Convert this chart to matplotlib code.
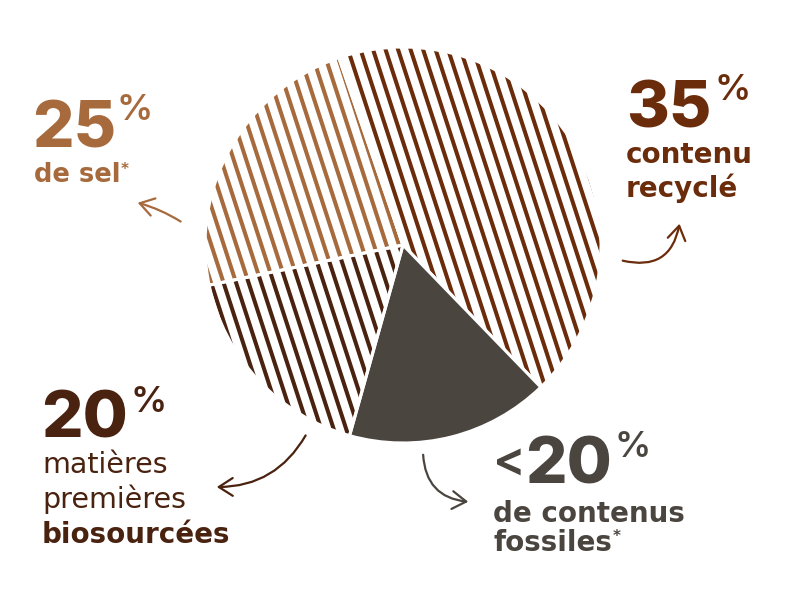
import numpy as np
import matplotlib.pyplot as plt
from matplotlib.patches import FancyArrowPatch
from matplotlib.collections import LineCollection

# slice shares as drawn, clockwise starting from the top-left edge
slices = ["contenu recyclé", "contenus fossiles", "matières premières biosourcées", "sel"]
shares = [43.0, 16.6, 17.4, 23.0]
colors = ["#6b2c0c", "#4b4540", "#4a2210", "#a66a3c"]
striped = [True, False, True, True]

# callout texts
numbers = ["35", "20", "20", "25"]
captions = [["contenu", "recyclé"], ["de contenus", "fossiles"],
            ["matières", "premières", "biosourcées"], ["de sel"]]

W, H = 805, 600


def px(x, y):
    # picture pixels (y down) -> data coords (y up)
    return x, H - y


fig = plt.figure(figsize=(8.05, 6), dpi=100)
ax = fig.add_axes([0, 0, 1, 1])

cx, cy = px(403, 245)
R = 198
wedges, _ = ax.pie(shares, startangle=108.9, counterclock=False,
                   center=(cx, cy), radius=R,
                   colors=[c if not s else "none" for c, s in zip(colors, striped)],
                   wedgeprops=dict(edgecolor="white", linewidth=2.2, zorder=3))

# diagonal hatching, clipped to each wedge
ang = np.deg2rad(-72)
d = np.array([np.cos(ang), np.sin(ang)])
n = np.array([-d[1], d[0]])
offs = np.arange(-R - 20, R + 20, 11.9)
for w, c, s in zip(wedges, colors, striped):
    if not s:
        continue
    segs = [[(cx + o * n[0] - 260 * d[0], cy + o * n[1] - 260 * d[1]),
             (cx + o * n[0] + 260 * d[0], cy + o * n[1] + 260 * d[1])] for o in offs]
    lc = LineCollection(segs, colors=c, linewidths=2.9, zorder=2)
    ax.add_collection(lc)
    lc.set_clip_path(w)

ax.set_xlim(0, W)
ax.set_ylim(0, H)
ax.set_aspect("equal")
ax.axis("off")

num_font = dict(family=["Inter", "DejaVu Sans"], fontweight="heavy", fontsize=47)
pct_font = dict(family=["Inter", "DejaVu Sans"], fontweight="semibold", fontsize=26)
txt_font = dict(family="DejaVu Sans", fontweight="bold", fontsize=20)

# 35% contenu recyclé
c = colors[0]
ax.text(*px(626, 127), numbers[0], color=c, va="baseline", **num_font)
ax.text(*px(714, 74), "%", color=c, va="top", **pct_font)
ax.text(*px(626, 163), captions[0][0], color=c, va="baseline", **txt_font)
ax.text(*px(626, 197), captions[0][1], color=c, va="baseline", **txt_font)

# <20% contenus fossiles
c = colors[1]
ax.text(*px(493, 476), "<", color=c, va="baseline",
        family=["Inter", "DejaVu Sans"], fontweight="semibold", fontsize=35)
ax.text(*px(525, 483), numbers[1], color=c, va="baseline", **num_font)
ax.text(*px(614, 431), "%", color=c, va="top", **pct_font)
ax.text(*px(493, 522), captions[1][0], color=c, va="baseline", **txt_font)
ax.text(*px(493, 551), captions[1][1], color=c, va="baseline", **txt_font)
ax.text(*px(613, 529), "*", color=c, va="top", fontsize=11, fontweight="bold")

# 20% biosourcées
c = colors[2]
ax.text(*px(41, 438), numbers[2], color=c, va="baseline", **num_font)
ax.text(*px(130, 386), "%", color=c, va="top", **pct_font)
ax.text(*px(42, 473), captions[2][0], color=c, va="baseline",
        family="DejaVu Sans", fontsize=20.5)
ax.text(*px(42, 508), captions[2][1], color=c, va="baseline",
        family="DejaVu Sans", fontsize=20.5)
ax.text(*px(42, 543), captions[2][2], color=c, va="baseline", **txt_font)

# 25% de sel
c = colors[3]
ax.text(*px(32, 147), numbers[3], color=c, va="baseline", **num_font)
ax.text(*px(116, 94), "%", color=c, va="top", **pct_font)
ax.text(*px(34, 182), captions[3][0], color=c, va="baseline",
        family="DejaVu Sans", fontweight="bold", fontsize=18.5)
ax.text(*px(121, 162), "*", color=c, va="top", fontsize=11, fontweight="bold")

# curved callout arrows
arrows = [
    ((620, 260), (680, 221), 0.55, colors[0]),
    ((423, 452), (471, 502), 0.45, colors[1]),
    ((307, 433), (214, 487), -0.3, colors[2]),
    ((183, 223), (135, 202), 0.08, colors[3]),
]
for a, b, rad, c in arrows:
    ax.add_patch(FancyArrowPatch(px(*a), px(*b), connectionstyle=f"arc3,rad={rad}",
                                 arrowstyle="->,head_length=0.5,head_width=0.32",
                                 mutation_scale=20, lw=1.6, color=c,
                                 capstyle="round", joinstyle="round"))

fig.savefig("out.png", dpi=100, facecolor="white")
